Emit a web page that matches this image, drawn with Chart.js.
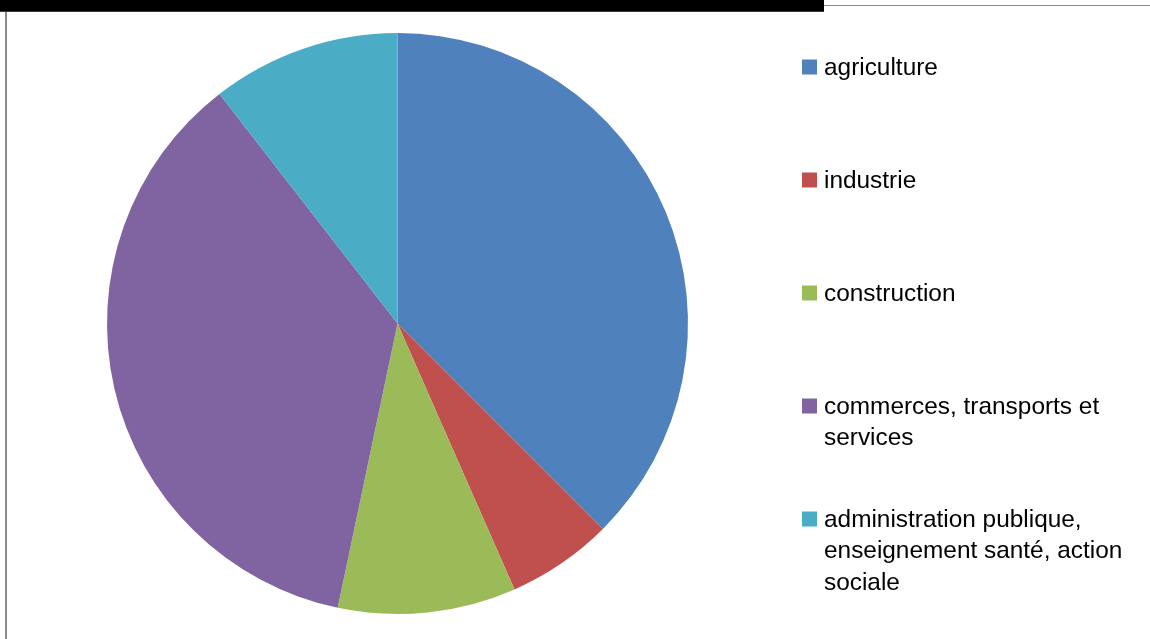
<!DOCTYPE html>
<html lang="fr">
<head>
<meta charset="utf-8">
<title>Répartition des emplois par secteur</title>
<script src="https://cdn.jsdelivr.net/npm/chart.js@4/dist/chart.umd.min.js"></script>
<style>
	html, body { margin: 0; padding: 0; background: #fff; }
	#wrap { position: relative; width: 1150px; height: 639px; }
</style>
</head>
<body>
<div id="wrap"><canvas id="pie" width="1150" height="639"></canvas></div>
<script>
// secteurs d'activité (%)
const secteurs = [
	'agriculture',
	'industrie',
	'construction',
	'commerces, transports et services',
	'administration publique, enseignement santé, action sociale',
];
const parts = [37.5, 5.9, 9.9, 36.2, 10.5];
const couleurs = ['#4F81BD', '#C0504D', '#9BBB59', '#8064A2', '#4BACC6'];

// lignes de la légende, coupées comme dans le classeur
const legendeLignes = [
	['agriculture'],
	['industrie'],
	['construction'],
	['commerces, transports et', 'services'],
	['administration publique,', 'enseignement santé, action', 'sociale'],
];

const cadre = {
	id: 'cadre',
	beforeDraw(chart) {
		const { ctx } = chart;
		ctx.save();
		ctx.fillStyle = '#000';
		ctx.fillRect(0, 0, 824, 11);
		ctx.fillStyle = '#3a3a3a';
		ctx.fillRect(0, 11, 824, 1);
		ctx.fillStyle = '#8c8c8c';
		ctx.fillRect(824, 5, 326, 1);
		ctx.fillRect(5, 12, 2, 627);
		ctx.restore();
	},
};

const legende = {
	id: 'legende',
	afterDraw(chart) {
		const { ctx } = chart;
		const cols = chart.data.datasets[0].backgroundColor;
		ctx.save();
		ctx.font = '24.4px "Liberation Sans", Arial, sans-serif';
		ctx.textBaseline = 'middle';
		legendeLignes.forEach((lignes, i) => {
			const y = 67 + i * 113;
			ctx.fillStyle = cols[i];
			ctx.fillRect(802, y - 7.5, 15, 15);
			ctx.fillStyle = '#000';
			lignes.forEach((t, j) => ctx.fillText(t, 824, y + 1 + j * 31.5));
		});
		ctx.restore();
	},
};

new Chart(document.getElementById('pie'), {
	type: 'pie',
	data: {
		labels: secteurs,
		datasets: [{
			data: parts,
			backgroundColor: couleurs,
			borderWidth: 0,
		}],
	},
	options: {
		responsive: false,
		animation: false,
		layout: {
			padding: { left: 107, top: 33, bottom: 25, right: 462 },
		},
		plugins: {
			legend: { display: false },
			tooltip: { enabled: false },
		},
	},
	plugins: [cadre, legende],
});
</script>
</body>
</html>
